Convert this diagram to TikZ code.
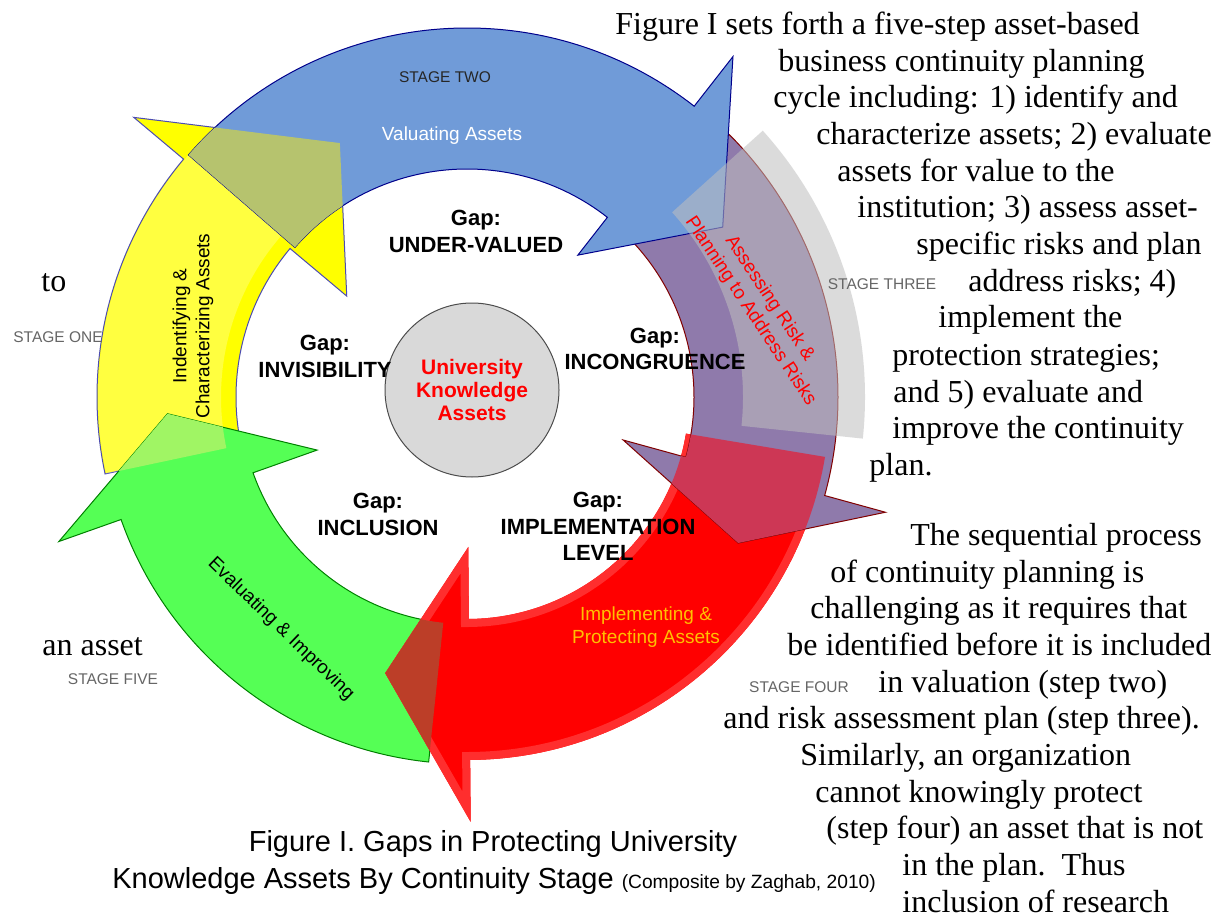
\documentclass[tikz,border=0pt]{standalone}
\usepackage{fontspec}
\setmainfont{Liberation Serif}
\setsansfont{Liberation Sans}
\usepackage{tikz}
\usepackage{xcolor}
\definecolor{stageblue}{RGB}{112,155,216}
\definecolor{stageyellow}{RGB}{255,255,0}
\definecolor{stagegreen}{RGB}{85,255,85}
\definecolor{stagered}{RGB}{255,0,0}
\definecolor{stagepurple}{RGB}{143,122,171}
\definecolor{olivemix}{RGB}{182,195,110}
\definecolor{limemix}{RGB}{160,245,100}
\definecolor{winemix}{RGB}{205,55,85}
\definecolor{rustmix}{RGB}{188,62,40}
\definecolor{amber}{RGB}{255,192,0}
\definecolor{hubgray}{RGB}{217,217,217}

% tail, head base, tip angle; inner, outer radius; inner barb, outer barb, tip radius
\newcommand{\ringarrow}[8]{(#1:#5) arc[start angle=#1,end angle=#2,radius=#5] -- (#2:#7) -- (#3:#8) -- (#2:#6) -- (#2:#4) arc[start angle=#2,end angle=#1,radius=#4] -- cycle}
% head base, tip angle; inner barb, outer barb, tip radius
\newcommand{\ringhead}[5]{(#1:#4) -- (#2:#5) -- (#1:#3) -- cycle}

\begin{document}
\begin{tikzpicture}[x=0.5pt,y=0.5pt,
  linetext/.style={anchor=base west,inner sep=0pt,font=\fontsize{16}{19}\selectfont},
  gaptext/.style={align=center,inner sep=0pt,font=\sffamily\bfseries\fontsize{11}{13.25}\selectfont},
  stagetext/.style={inner sep=0pt,text=black!60,font=\sffamily\fontsize{7.75}{9}\selectfont},
  armtext/.style={align=center,inner sep=0pt,font=\sffamily\fontsize{9.5}{11.5}\selectfont},
  captext/.style={inner sep=0pt,font=\sffamily\fontsize{14.5}{17}\selectfont}]
\fill[white] (0,0) rectangle (1218,917);
\useasboundingbox (0,0) rectangle (1218,917);

\begin{scope}[shift={(467,520)}]
% stage one
\filldraw[fill=stageyellow,draw=blue!40!gray,line width=.5pt] \ringarrow{192}{140}{116.6}{231}{370}{157}{435}{284};
\fill[white,opacity=.25] (192:369) arc[start angle=192,end angle=139,radius=369] -- (139:246) arc[start angle=139,end angle=192,radius=246] -- cycle;
% stage five
\filldraw[fill=stagegreen,draw=green!50!black,line width=.5pt] \ringarrow{264}{199.5}{183.2}{227}{367}{159}{433}{300};
% stage four, with its paler rim
\fill[stagered] \ringarrow{-9.5}{-89.5}{-106.5}{222}{363}{150}{425}{288};
\begin{scope}
\clip \ringarrow{-9.5}{-89.5}{-106.5}{222}{363}{150}{425}{288};
\draw[red!82!white,line width=8pt] \ringarrow{-9.5}{-89.5}{-106.5}{222}{363}{150}{425}{288};
\end{scope}
% stage three
\filldraw[fill=stagepurple,draw=red!50!black,line width=.5pt] \ringarrow{45}{-15.4}{-28.3}{227}{371}{162}{434}{308};
% stage two
\filldraw[fill=stageblue,draw=blue!55!black,line width=.5pt] \ringarrow{139}{52}{33.6}{228}{369}{180}{432}{307};

% where the arrows run into each other
\begin{scope}
\clip (192:369) arc[start angle=192,end angle=139,radius=369] -- (139:246) arc[start angle=139,end angle=192,radius=246] -- cycle;
\fill[limemix] \ringhead{199.5}{183.2}{159}{433}{300};
\end{scope}
\begin{scope}
\clip \ringarrow{139}{52}{33.6}{228}{369}{180}{432}{307};
\fill[olivemix] \ringhead{140}{116.6}{157}{435}{284};
\end{scope}
\begin{scope}
\clip \ringarrow{45}{-15.4}{-28.3}{227}{371}{162}{434}{308};
\fill[winemix] \ringarrow{-9.5}{-89.5}{-106.5}{222}{363}{150}{425}{288};
\end{scope}
\begin{scope}
\clip \ringarrow{264}{199.5}{183.2}{227}{367}{159}{433}{300};
\fill[rustmix] \ringhead{-89.5}{-106.5}{150}{425}{288};
\end{scope}

% grey band behind stage three
\fill[black!25,opacity=.55] (42:398) arc[start angle=42,end angle=-6,radius=398] -- (-6:276) arc[start angle=-6,end angle=42,radius=276] -- cycle;
\end{scope}

\node[circle,minimum size=87pt,fill=hubgray,draw=black!70,line width=.5pt,align=center,text=red,
  font=\sffamily\bfseries\fontsize{10.5}{11.5}\selectfont] (hub) at (472,527) {University\\Knowledge\\Assets};

\node[gaptext] (gapvalued) at (476,685.5) {Gap:\\UNDER-VALUED};
\node[gaptext] (gapinvisible) at (325,560.5) {Gap:\\INVISIBILITY};
\node[gaptext] (gapcongruence) at (655,568) {Gap:\\INCONGRUENCE};
\node[gaptext] (gapinclusion) at (378,402.5) {Gap:\\INCLUSION};
\node[gaptext] (gapimplement) at (598,390.5) {Gap:\\IMPLEMENTATION\\LEVEL};

\node[stagetext,text=black!85] (stagetwo) at (445,840) {STAGE TWO};
\node[stagetext] (stagethree) at (882,633) {STAGE THREE};
\node[stagetext] (stageone) at (58,580) {STAGE ONE};
\node[stagetext] (stagefive) at (113,238) {STAGE FIVE};
\node[stagetext] (stagefour) at (799,230) {STAGE FOUR};

\node[armtext,text=white] (valuating) at (452,781) {Valuating Assets};
\node[armtext,rotate=90] (identifying) at (193,591) {Indentifying \&\\Characterizing Assets};
\node[armtext,rotate=-56.5,text=red] (assessing) at (760,612) {Assessing Risk \&\\Planning to Address Risks};
\node[armtext,text=amber] (implementing) at (646,290) {Implementing \&\\Protecting Assets};
\node[armtext,rotate=-44] (evaluating) at (281,288) {Evaluating \& Improving};

% running text beside the figure
\node[linetext] (l1) at (615,882) {Figure I sets forth a five-step asset-based};
\node[linetext] (l2) at (778,845) {business continuity planning};
\node[linetext] (l3) at (773,809) {cycle including: 1) identify and};
\node[linetext] (l4) at (816,772) {characterize assets; 2) evaluate};
\node[linetext] (l5) at (837,735) {assets for value to the};
\node[linetext] (l6) at (857,699) {institution; 3) assess asset-};
\node[linetext] (l7) at (916,662) {specific risks and plan};
\node[linetext] (l8) at (968,625) {address risks; 4)};
\node[linetext] (l9) at (938,589) {implement the};
\node[linetext] (l10) at (892,552) {protection strategies;};
\node[linetext] (l11) at (893,515) {and 5) evaluate and};
\node[linetext] (l12) at (892,479) {improve the continuity};
\node[linetext] (l13) at (869,442) {plan.};
\node[linetext] (l14) at (910,372) {The sequential process};
\node[linetext] (l15) at (830,335) {of continuity planning is};
\node[linetext] (l16) at (810,299) {challenging as it requires that};
\node[linetext] (l17) at (787,262) {be identified before it is included};
\node[linetext] (l18) at (878,225) {in valuation (step two)};
\node[linetext] (l19) at (723,189) {and risk assessment plan (step three).};
\node[linetext] (l20) at (800,152) {Similarly, an organization};
\node[linetext] (l21) at (815,115) {cannot knowingly protect};
\node[linetext] (l22) at (826,79) {(step four) an asset that is not};
\node[linetext] (l23) at (902,42) {in the plan.\ \ Thus};
\node[linetext] (l24) at (902,5) {inclusion of research};
\node[linetext] (lto) at (41,625) {to};
\node[linetext] (lasset) at (42,262) {an asset};

\node[captext,anchor=base] (caption) at (493,66) {Figure I. Gaps in Protecting University};
\node[captext,anchor=base west] (captionb) at (112,29) {Knowledge Assets By Continuity Stage {\fontsize{9.6}{11}\selectfont(Composite by Zaghab, 2010)}};
\end{tikzpicture}
\end{document}
